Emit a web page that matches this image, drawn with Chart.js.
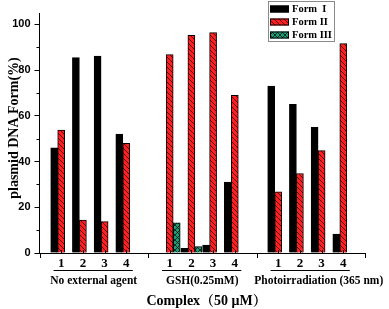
<!DOCTYPE html>
<html>
<head>
<meta charset="utf-8">
<script src="https://cdn.jsdelivr.net/npm/chart.js@4.4.1/dist/chart.umd.min.js"></script>
<style>
  html, body { margin: 0; padding: 0; background: #fff; }
  canvas { display: block; }
</style>
</head>
<body>
<canvas id="chart" width="389" height="309"></canvas>
<script>
// data
const xPos = [1, 2, 3, 4, 6, 7, 8, 9, 11, 12, 13, 14];
const xLabels = ["1", "2", "3", "4", "1", "2", "3", "4", "1", "2", "3", "4"];
const groupNames = ["No external agent", "GSH(0.25mM)", "Photoirradiation (365 nm)"];
const seriesNames = ["Form  I", "Form II", "Form III"];
const formI = [46, 85.5, 86.2, 52, null, 2, 3.5, 31, 73, 65, 55, 8.3];
const formII = [53.8, 14.4, 13.7, 48, 86.8, 95.2, 96.4, 69, 26.8, 34.8, 44.8, 91.6];
const formIII = [null, null, null, null, 13.2, 2.8, null, null, null, null, null, null];
const yTicks = [0, 20, 40, 60, 80, 100];

const serif = "'Liberation Serif', 'Noto Serif CJK SC', 'Noto Sans CJK SC', serif";
const sans = "'Liberation Sans', Arial, sans-serif";

// hatch fills
function hatch(bg, cross) {
  const s = 5;
  const c = document.createElement("canvas");
  c.width = s; c.height = s;
  const g = c.getContext("2d");
  g.fillStyle = bg;
  g.fillRect(0, 0, s, s);
  g.strokeStyle = "rgba(0,0,0,0.85)";
  g.lineWidth = 0.8;
  g.beginPath();
  for (const o of [-s, 0, s]) {
    g.moveTo(o, 0); g.lineTo(o + s, s);
    if (cross) { g.moveTo(o + s, 0); g.lineTo(o, s); }
  }
  g.stroke();
  return g.createPattern(c, "repeat");
}
const redFill = hatch("#ff1f1f", false);
const greenFill = hatch("#1e9b72", true);
const fills = ["#000000", redFill, greenFill];

const toPoints = arr => xPos.map((x, i) => ({ x: x, y: arr[i] }));

// axis extras, labels and legend
const decor = {
  id: "decor",
  afterDraw(chart) {
    const ctx = chart.ctx;
    const xs = chart.scales.x, ys = chart.scales.y;
    const a = chart.chartArea;
    ctx.save();
    ctx.strokeStyle = "#000";
    ctx.lineWidth = 1;
    ctx.beginPath();
    // minor y ticks
    for (let v = 10; v < 100; v += 20) {
      const y = Math.round(ys.getPixelForValue(v)) + 0.5;
      ctx.moveTo(a.left - 3, y); ctx.lineTo(a.left, y);
    }
    // x ticks
    for (let u = 0; u <= 15; u++) {
      const x = Math.round(xs.getPixelForValue(u)) + 0.5;
      if (u % 5 === 0) { ctx.moveTo(x, a.bottom); ctx.lineTo(x, a.bottom + 5); }
      else { ctx.moveTo(x, a.bottom); ctx.lineTo(x, a.bottom - 3); }
    }
    ctx.stroke();

    // category numbers
    ctx.fillStyle = "#000";
    ctx.textAlign = "center";
    ctx.textBaseline = "middle";
    ctx.font = "bold 13px " + serif;
    xPos.forEach((x, i) => ctx.fillText(xLabels[i], xs.getPixelForValue(x), a.bottom + 11));

    // group underlines and names
    ctx.font = "bold 11.5px " + serif;
    groupNames.forEach((name, g) => {
      const first = xPos[g * 4], last = xPos[g * 4 + 3];
      const y = a.bottom + 17.5;
      ctx.beginPath();
      ctx.moveTo(xs.getPixelForValue(first - 0.35), y);
      ctx.lineTo(xs.getPixelForValue(last + 0.3), y);
      ctx.stroke();
      const cx = xs.getPixelForValue((first + last) / 2) + (g === 2 ? 8 : 0);
      ctx.fillText(name, cx, a.bottom + 28);
    });

    // axis titles
    ctx.font = "bold 14px " + serif;
    ctx.fillText("Complex\uFF0850 \u03BCM\uFF09", xs.getPixelForValue(7.7), a.bottom + 48);
    ctx.save();
    ctx.translate(14, 128);
    ctx.rotate(-Math.PI / 2);
    ctx.fillText("plasmid DNA Form(%)", 0, 0);
    ctx.restore();

    // legend
    const lx = 268, ly = 1, lw = 66, lh = 40;
    ctx.strokeStyle = "#8a8a8a";
    ctx.strokeRect(lx + 0.5, ly + 0.5, lw, lh);
    ctx.font = "bold 10.5px " + serif;
    ctx.textAlign = "left";
    seriesNames.forEach((name, i) => {
      const ry = ly + 7.5 + i * 13;
      ctx.fillStyle = fills[i];
      ctx.fillRect(lx + 2, ry - 3, 19, 7);
      ctx.strokeStyle = "#000";
      ctx.strokeRect(lx + 2.5, ry - 2.5, 18, 6);
      ctx.fillStyle = "#000";
      ctx.fillText(name, lx + 24, ry + 1);
    });
    ctx.restore();
  }
};

new Chart(document.getElementById("chart"), {
  type: "bar",
  data: {
    datasets: [
      { label: seriesNames[0], data: toPoints(formI), backgroundColor: fills[0] },
      { label: seriesNames[1], data: toPoints(formII), backgroundColor: fills[1] },
      { label: seriesNames[2], data: toPoints(formIII), backgroundColor: fills[2] }
    ]
  },
  options: {
    responsive: false,
    animation: false,
    layout: { padding: { top: 13, right: 24, left: 0, bottom: 0 } },
    datasets: {
      bar: { barThickness: 7, borderColor: "#000", borderWidth: 1, borderSkipped: "start" }
    },
    plugins: { legend: { display: false }, tooltip: { enabled: false } },
    scales: {
      x: {
        type: "linear",
        min: 0,
        max: 15,
        offset: false,
        grid: { display: false, offset: false },
        border: { display: true, color: "#000", width: 1 },
        ticks: { display: false },
        afterFit(scale) { scale.height = 56; }
      },
      y: {
        min: 0,
        max: 105,
        afterBuildTicks(scale) { scale.ticks = yTicks.map(v => ({ value: v })); },
        grid: { drawOnChartArea: false, drawTicks: true, tickLength: 5, color: "#000" },
        border: { display: true, color: "#000", width: 1 },
        ticks: { color: "#000", padding: 4, font: { family: sans, size: 11, weight: "bold" } },
        afterFit(scale) { scale.width = 39.5; }
      }
    }
  },
  plugins: [decor]
});
</script>
</body>
</html>
